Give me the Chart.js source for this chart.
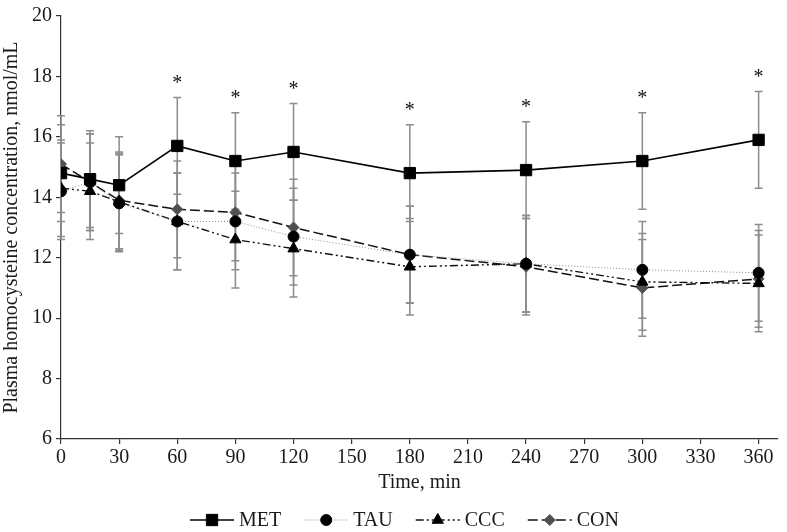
<!DOCTYPE html>
<html lang="en">

<head>
    <meta charset="UTF-8">
    <title>Plasma homocysteine concentration</title>
    <script src="https://cdn.jsdelivr.net/npm/chart.js"></script>
    <style>
        html, body { margin: 0; padding: 0; background: #fff; }
        #wrap { width: 787px; height: 532px; }
    </style>
</head>

<body>
    <div id="wrap"><canvas id="homoChart" width="787" height="532"></canvas></div>

    <script>
        // Data (mean and error, nmol/mL)
        const times = [0, 15, 30, 60, 90, 120, 180, 240, 300, 360];
        const met = [14.8, 14.6, 14.4, 15.7, 15.2, 15.5, 14.8, 14.9, 15.2, 15.9];
        const tau = [14.2, 14.5, 13.8, 13.2, 13.2, 12.7, 12.1, 11.8, 11.6, 11.5];
        const ccc = [14.3, 14.2, 13.85, 13.2, 12.6, 12.3, 11.7, 11.8, 11.2, 11.15];
        const con = [15.1, 14.5, 13.9, 13.6, 13.5, 13.0, 12.1, 11.7, 11.0, 11.3];
        const metErr = [1.6, 1.6, 1.6, 1.6, 1.6, 1.6, 1.6, 1.6, 1.6, 1.6];
        const tauErr = [1.6, 1.6, 1.6, 1.6, 1.6, 1.6, 1.6, 1.6, 1.6, 1.6];
        const cccErr = [1.6, 1.6, 1.6, 1.6, 1.6, 1.6, 1.6, 1.6, 1.6, 1.6];
        const conErr = [1.6, 1.6, 1.6, 1.6, 1.6, 1.6, 1.6, 1.6, 1.6, 1.6];
        const sigTimes = [60, 90, 120, 180, 240, 300, 360];   // * marks on MET
        const xTicks = [0, 30, 60, 90, 120, 150, 180, 210, 240, 270, 300, 330, 360];
        const yTicks = [6, 8, 10, 12, 14, 16, 18, 20];

        const serif = "'Liberation Serif', 'Times New Roman', Times, serif";
        Chart.defaults.font.family = serif;
        Chart.defaults.font.size = 20;
        Chart.defaults.color = '#1a1a1a';

        function pts(ys) {
            return times.map((t, i) => ({ x: t, y: ys[i] }));
        }

        const datasets = [
            {
                label: 'MET', data: pts(met), err: metErr,
                borderColor: '#000', borderWidth: 1.6, borderDash: [],
                pointStyle: 'rect', pointRadius: 8,
                pointBackgroundColor: '#000', pointBorderColor: '#000'
            },
            {
                label: 'TAU', data: pts(tau), err: tauErr,
                borderColor: '#8a8a8a', borderWidth: 1, borderDash: [1, 2],
                pointStyle: 'circle', pointRadius: 5.5,
                pointBackgroundColor: '#000', pointBorderColor: '#000'
            },
            {
                label: 'CCC', data: pts(ccc), err: cccErr,
                borderColor: '#111', borderWidth: 1.4, borderDash: [8, 3, 2, 3, 2, 3],
                pointStyle: 'triangle', pointRadius: 6.5,
                pointBackgroundColor: '#000', pointBorderColor: '#000'
            },
            {
                label: 'CON', data: pts(con), err: conErr,
                borderColor: '#111', borderWidth: 1.5, borderDash: [10, 4],
                pointStyle: 'rectRot', pointRadius: 5.5,
                pointBackgroundColor: '#505050', pointBorderColor: '#505050'
            }
        ];
        datasets.forEach(d => {
            d.fill = false;
            d.tension = 0;
            d.pointBorderWidth = 1;
            d.pointHoverRadius = d.pointRadius;
        });

        // error bars, under the lines
        const errorBars = {
            id: 'errorBars',
            beforeDatasetsDraw(chart) {
                const ctx = chart.ctx;
                const xs = chart.scales.x, ys = chart.scales.y;
                ctx.save();
                ctx.strokeStyle = '#8c8c8c';
                ctx.lineWidth = 1.5;
                chart.data.datasets.forEach(ds => {
                    ds.data.forEach((p, i) => {
                        const x = xs.getPixelForValue(p.x);
                        const top = ys.getPixelForValue(p.y + ds.err[i]);
                        const bot = ys.getPixelForValue(p.y - ds.err[i]);
                        ctx.beginPath();
                        ctx.moveTo(x, top); ctx.lineTo(x, bot);
                        ctx.moveTo(x - 4, top); ctx.lineTo(x + 4, top);
                        ctx.moveTo(x - 4, bot); ctx.lineTo(x + 4, bot);
                        ctx.stroke();
                    });
                });
                ctx.restore();
            },
            afterDatasetsDraw(chart) {
                // significance asterisks above the MET bars
                const ctx = chart.ctx;
                const xs = chart.scales.x, ys = chart.scales.y;
                const ds = chart.data.datasets[0];
                ctx.save();
                ctx.fillStyle = '#111';
                ctx.font = '20px ' + serif;
                ctx.textAlign = 'center';
                ctx.textBaseline = 'middle';
                sigTimes.forEach(t => {
                    const i = times.indexOf(t);
                    const x = xs.getPixelForValue(t);
                    const y = ys.getPixelForValue(met[i] + ds.err[i]);
                    ctx.fillText('*', x, y - 14);
                });
                ctx.restore();
            }
        };

        // legend with line sample + marker, bottom centre
        const lineLegend = {
            id: 'lineLegend',
            afterDraw(chart) {
                const ctx = chart.ctx;
                const sampleW = 44, gapText = 5, gapItem = 23;
                ctx.save();
                ctx.font = '20px ' + serif;
                ctx.textBaseline = 'middle';
                ctx.textAlign = 'left';
                const widths = chart.data.datasets.map(d => sampleW + gapText + ctx.measureText(d.label).width);
                const total = widths.reduce((a, b) => a + b, 0) + gapItem * (widths.length - 1);
                let x = chart.width / 2 + 11 - total / 2;
                const y = chart.height - 12;
                chart.data.datasets.forEach((d, i) => {
                    ctx.save();
                    ctx.strokeStyle = d.borderColor;
                    ctx.lineWidth = d.borderWidth;
                    ctx.setLineDash(d.borderDash);
                    ctx.beginPath();
                    ctx.moveTo(x, y); ctx.lineTo(x + sampleW, y);
                    ctx.stroke();
                    ctx.setLineDash([]);
                    ctx.fillStyle = d.pointBackgroundColor;
                    ctx.strokeStyle = d.pointBorderColor;
                    ctx.lineWidth = 1;
                    Chart.helpers.drawPoint(ctx, {
                        pointStyle: d.pointStyle, radius: d.pointRadius, rotation: 0, borderWidth: 1
                    }, x + sampleW / 2, y);
                    ctx.restore();
                    ctx.fillStyle = '#1a1a1a';
                    ctx.fillText(d.label, x + sampleW + gapText, y + 1);
                    x += widths[i] + gapItem;
                });
                ctx.restore();
            }
        };

        const ctx = document.getElementById('homoChart').getContext('2d');
        const homoChart = new Chart(ctx, {
            type: 'line',
            data: { datasets: datasets },
            plugins: [errorBars, lineLegend],
            options: {
                responsive: false,
                animation: false,
                layout: { padding: { top: 13, right: 5, left: 0, bottom: 0 } },
                plugins: {
                    legend: { display: false },
                    tooltip: { enabled: false }
                },
                scales: {
                    x: {
                        type: 'linear',
                        min: 0,
                        max: 370,
                        afterFit(scale) { scale.height = 93; },
                        afterBuildTicks(scale) { scale.ticks = xTicks.map(v => ({ value: v })); },
                        ticks: { padding: 2, font: { size: 20, lineHeight: 1.2 }, color: '#1a1a1a' },
                        grid: { drawOnChartArea: false, drawTicks: true, tickLength: 5, color: '#333', lineWidth: 1.2 },
                        border: { color: '#333', width: 1.2 },
                        title: {
                            display: true, text: 'Time, min',
                            font: { size: 20, lineHeight: 1.2 }, color: '#1a1a1a',
                            padding: { top: 0, bottom: 37 }
                        }
                    },
                    y: {
                        min: 6,
                        max: 20,
                        afterFit(scale) { scale.width = 61; },
                        afterBuildTicks(scale) { scale.ticks = yTicks.map(v => ({ value: v })); },
                        ticks: { padding: 4, font: { size: 20, lineHeight: 1.2 }, color: '#1a1a1a' },
                        grid: { drawOnChartArea: false, drawTicks: true, tickLength: 5, color: '#333', lineWidth: 1.2 },
                        border: { color: '#333', width: 1.2 },
                        title: {
                            display: true, text: 'Plasma homocysteine concentration, nmol/mL',
                            font: { size: 20, lineHeight: 1.2 }, color: '#1a1a1a',
                            padding: { top: 0, bottom: 0 }
                        }
                    }
                }
            }
        });
    </script>

</body>

</html>
